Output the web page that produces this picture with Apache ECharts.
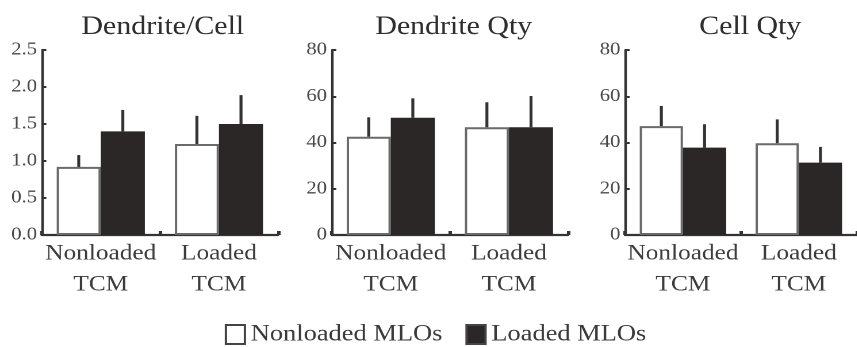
<!DOCTYPE html>
<html>
<head>
<meta charset="utf-8">
<script src="https://cdn.jsdelivr.net/npm/echarts@6/dist/echarts.min.js"></script>
<style>
html,body{margin:0;padding:0;background:#fff;overflow:hidden;width:857px;height:347px;}
#c{width:745px;height:347px;transform:scaleX(1.15);transform-origin:0 0;}
</style>
</head>
<body>
<div id="c"></div>
<script>
// ---- data ----
const categories = ['Nonloaded\nTCM', 'Loaded\nTCM'];
const seriesNames = ['Nonloaded MLOs', 'Loaded MLOs'];
const panelTitles = ['Dendrite/Cell', 'Dendrite Qty', 'Cell Qty'];

const dendriteCellNonloaded = [0.92, 1.23];
const dendriteCellNonloadedSD = [0.16, 0.38];
const dendriteCellLoaded = [1.40, 1.50];
const dendriteCellLoadedSD = [0.29, 0.39];

const dendriteQtyNonloaded = [42.5, 46.6];
const dendriteQtyNonloadedSD = [8.4, 10.8];
const dendriteQtyLoaded = [50.7, 46.6];
const dendriteQtyLoadedSD = [8.4, 13.5];

const cellQtyNonloaded = [47.1, 39.7];
const cellQtyNonloadedSD = [8.7, 10.3];
const cellQtyLoaded = [37.8, 31.3];
const cellQtyLoadedSD = [10.1, 6.8];

const yMax = [2.5, 80, 80];
const yInterval = [0.5, 20, 20];
const yDecimals = [1, 0, 0];

const panels = [
  [dendriteCellNonloaded, dendriteCellNonloadedSD, dendriteCellLoaded, dendriteCellLoadedSD],
  [dendriteQtyNonloaded, dendriteQtyNonloadedSD, dendriteQtyLoaded, dendriteQtyLoadedSD],
  [cellQtyNonloaded, cellQtyNonloadedSD, cellQtyLoaded, cellQtyLoadedSD]
];

// ---- layout / style ----
const SX = 1.15;
const gridLeft = [41.7 / SX, 331.7 / SX, 625 / SX];
const gridWidth = 205.5;
const titleCenters = [157 / SX, 448 / SX, 744.5 / SX];
const BAR_FRAC = 0.373;
const FONT = '"Liberation Serif", "Times New Roman", serif';
const axisColor = '#333';
const textColor = '#3c3c3c';
const fillDark = '#2b2727';

const grids = [], xAxes = [], yAxes = [], titles = [], series = [];
panels.forEach((p, i) => {
  grids.push({left: gridLeft[i], top: 50, width: gridWidth, height: 185});
  titles.push({
    text: panelTitles[i], left: titleCenters[i], top: 9, textAlign: 'center',
    textStyle: {fontFamily: FONT, fontSize: 26, fontWeight: 'normal', color: '#2e2e2e'}
  });
  xAxes.push({
    type: 'category', gridIndex: i, data: categories,
    axisLine: {show: true, lineStyle: {color: axisColor, width: 2.2}},
    axisTick: {show: true, inside: true, length: 4, lineStyle: {color: axisColor, width: 3}},
    axisLabel: {fontFamily: FONT, fontSize: 22, color: textColor, lineHeight: 31, margin: 3, interval: 0}
  });
  yAxes.push({
    type: 'value', gridIndex: i, min: 0, max: yMax[i], interval: yInterval[i],
    splitLine: {show: false},
    axisLine: {show: true, lineStyle: {color: axisColor, width: 2.2}},
    axisTick: {show: true, inside: true, length: 4, lineStyle: {color: axisColor, width: 2}},
    axisLabel: {fontFamily: FONT, fontSize: 18, color: '#4a4a4a', margin: 4,
      formatter: v => v.toFixed(yDecimals[i])}
  });
  series.push({
    name: seriesNames[0], type: 'bar', xAxisIndex: i, yAxisIndex: i, data: p[0],
    barWidth: (BAR_FRAC * 100) + '%', barGap: '0%',
    itemStyle: {color: '#fff', borderColor: '#6a6a6a', borderWidth: 2}
  });
  series.push({
    name: seriesNames[1], type: 'bar', xAxisIndex: i, yAxisIndex: i, data: p[2],
    barWidth: (BAR_FRAC * 100) + '%', barGap: '0%',
    itemStyle: {color: fillDark, borderColor: fillDark, borderWidth: 1}
  });
  const errData = [];
  for (let k = 0; k < categories.length; k++) {
    errData.push([k, p[0][k], p[0][k] + p[1][k], 0]);
    errData.push([k, p[2][k], p[2][k] + p[3][k], 1]);
  }
  series.push({
    type: 'custom', xAxisIndex: i, yAxisIndex: i, data: errData, z: 5,
    silent: true,
    renderItem: function (params, api) {
      const cat = api.value(0);
      const base = api.coord([cat, api.value(1)]);
      const top = api.coord([cat, api.value(2)]);
      const catW = api.size([1, 0])[0];
      const off = (api.value(3) === 0 ? -1 : 1) * catW * BAR_FRAC / 2;
      return {
        type: 'line',
        shape: {x1: base[0] + off, y1: base[1], x2: base[0] + off, y2: top[1]},
        style: {stroke: '#333', lineWidth: 2.6}
      };
    }
  });
});

const chart = echarts.init(document.getElementById('c'), null, {renderer: 'canvas', devicePixelRatio: 2});
chart.setOption({
  animation: false,
  backgroundColor: '#fff',
  title: titles,
  grid: grids,
  xAxis: xAxes,
  yAxis: yAxes,
  legend: {
    data: seriesNames, left: 219 / SX, top: 318,
    itemWidth: 19 / SX, itemHeight: 19, itemGap: 20, icon: 'rect',
    textStyle: {fontFamily: FONT, fontSize: 23, color: '#3a3a3a'},
    itemStyle: {borderColor: '#444', borderWidth: 2}
  },
  series: series
});
</script>
</body>
</html>
